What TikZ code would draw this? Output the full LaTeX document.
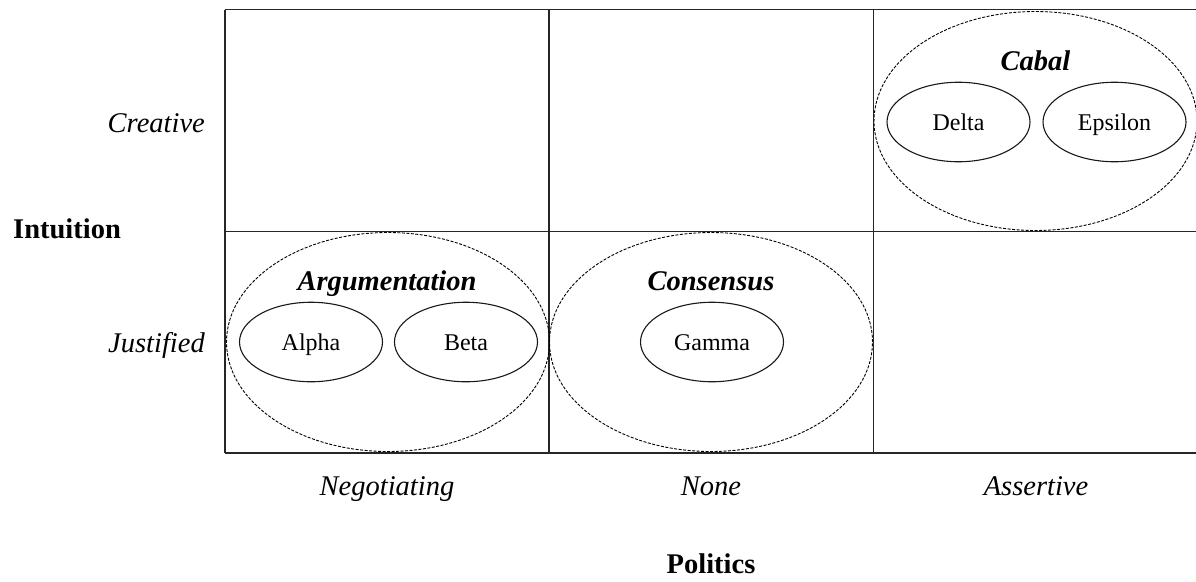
\documentclass[tikz,border=0pt]{standalone}
\usepackage{fontspec}
\setmainfont{Liberation Serif}
\usetikzlibrary{shapes.geometric}
\begin{document}
\begin{tikzpicture}[x=1pt,y=-1pt,
  gridline/.style={line width=1.6pt, draw=black!85},
  axislab/.style={inner sep=0pt, font=\fontsize{28.5}{34}\selectfont\itshape},
  axistitle/.style={inner sep=0pt, font=\fontsize{28.5}{34}\selectfont\bfseries},
  grouplab/.style={inner sep=0pt, font=\fontsize{28.5}{34}\selectfont\bfseries\itshape, anchor=base},
  group/.style={ellipse, draw=black, line width=0.9pt, dash pattern=on 3pt off 1.5pt,
    minimum width=323pt, minimum height=219pt, inner sep=0pt},
  member/.style={ellipse, draw=black!90, line width=1.1pt, minimum width=143pt, minimum height=79.5pt,
    inner sep=0pt, text height=16pt, text depth=0pt, font=\fontsize{24}{28}\selectfont}]
\useasboundingbox (0,0) rectangle (1196,581);
% grid
\draw[gridline] (225,9.5) -- (1196,9.5);
\draw[gridline] (225,231.5) -- (1196,231.5);
\draw[gridline] (225,453) -- (1196,453);
\draw[gridline] (225,9.5) -- (225,453);
\draw[gridline] (549,9.5) -- (549,453);
\draw[gridline] (873.5,9.5) -- (873.5,453);
% axis labels
\node[axislab, anchor=base east] (creative) at (205,132) {Creative};
\node[axislab, anchor=base east] (justified) at (205,352) {Justified};
\node[axistitle, anchor=base west] (intuition) at (13,238) {Intuition};
\node[axislab, anchor=base] (negotiating) at (387,495) {Negotiating};
\node[axislab, anchor=base] (none) at (711,495) {None};
\node[axislab, anchor=base] (assertive) at (1036,495) {Assertive};
\node[axistitle, anchor=base] (politics) at (711,573) {Politics};
% groups
\node[group] (cabal) at (1035.5,121) {};
\node[group] (argumentation) at (388,342) {};
\node[group] (consensus) at (711,342) {};
\node[grouplab] (cabalL) at (1035.5,70) {Cabal};
\node[grouplab] (argL) at (387,290) {Argumentation};
\node[grouplab] (consL) at (711,290) {Consensus};
% members
\node[member] (delta) at (958.5,122) {Delta};
\node[member] (epsilon) at (1114.5,122) {Epsilon};
\node[member] (alpha) at (311,342) {Alpha};
\node[member] (beta) at (466,342) {Beta};
\node[member] (gamma) at (712,342) {Gamma};
\end{tikzpicture}
\end{document}
